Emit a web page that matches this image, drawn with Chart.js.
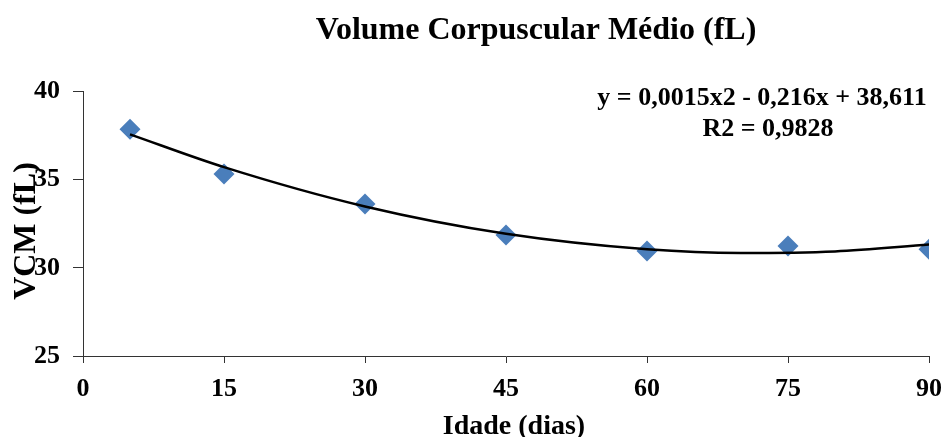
<!DOCTYPE html>
<html>
<head>
<meta charset="utf-8">
<script src="https://cdn.jsdelivr.net/npm/chart.js@4/dist/chart.umd.min.js"></script>
<style>
  body { margin: 0; background: #fff; }
  canvas { display: block; }
</style>
</head>
<body>
<canvas id="vcm_chart" width="945" height="437"></canvas>
<script>
// measured points (day, VCM)
const dias = [5, 15, 30, 45, 60, 75, 90];
const vcm = [37.86, 35.32, 33.62, 31.86, 30.95, 31.24, 31.05];

// trend curve
const trendDias = [5, 15, 30, 45, 60, 70, 80, 90];
const trendVcm = [37.57, 35.71, 33.48, 31.93, 31.05, 30.84, 30.93, 31.32];

const xTicks = [0, 15, 30, 45, 60, 75, 90];
const yTicks = [25, 30, 35, 40];

const chartTitle = "Volume Corpuscular Médio (fL)";
const xTitle = "Idade (dias)";
const yTitle = "VCM (fL)";
const equationLines = ["y = 0,0015x2 - 0,216x + 38,611", "R2 = 0,9828"];

const serif = "'Liberation Serif', 'Times New Roman', serif";

const toPoints = (xs, ys) => xs.map((x, i) => ({ x: x, y: ys[i] }));

// titles and the trendline label, placed like the excel original
const textLabels = {
  id: "textLabels",
  afterDraw: (chart) => {
    const ctx = chart.ctx;
    ctx.save();
    ctx.fillStyle = "#000";
    ctx.textAlign = "center";
    ctx.textBaseline = "alphabetic";

    ctx.font = `bold 32px ${serif}`;
    ctx.fillText(chartTitle, 536, 39);

    ctx.font = `bold 28px ${serif}`;
    ctx.fillText(xTitle, 514, 434);

    ctx.save();
    ctx.translate(35, 231);
    ctx.rotate(-Math.PI / 2);
    ctx.font = `bold 32px ${serif}`;
    ctx.fillText(yTitle, 0, 0);
    ctx.restore();

    ctx.font = `bold 26px ${serif}`;
    ctx.fillText(equationLines[0], 762, 105);
    ctx.fillText(equationLines[1], 768, 136);
    ctx.restore();
  },
};

const axisBase = (ticksList, tickLen) => ({
  type: "linear",
  min: ticksList[0],
  max: ticksList[ticksList.length - 1],
  afterBuildTicks: (axis) => {
    axis.ticks = ticksList.map((v) => ({ value: v }));
  },
  grid: {
    display: true,
    drawOnChartArea: false,
    drawTicks: true,
    tickLength: tickLen,
    tickColor: "#333",
  },
  border: { display: true, color: "#333", width: 1 },
});

const xAxis = axisBase(xTicks, 7);
xAxis.ticks = {
  color: "#000",
  padding: 11,
  font: { family: serif, size: 26, weight: "bold" },
};
xAxis.afterFit = (axis) => {
  axis.height = 81;
  axis.paddingLeft = 0;
  axis.paddingRight = 0;
};

const yAxis = axisBase(yTicks, 10);
yAxis.ticks = {
  color: "#000",
  padding: 13,
  font: { family: serif, size: 26, weight: "bold" },
};
yAxis.afterFit = (axis) => {
  axis.width = 83;
  axis.paddingTop = 0;
  axis.paddingBottom = 0;
};

const ctx = document.getElementById("vcm_chart").getContext("2d");
new Chart(ctx, {
  type: "scatter",
  data: {
    datasets: [
      {
        type: "line",
        label: "Tendência",
        data: toPoints(trendDias, trendVcm),
        borderColor: "#000",
        borderWidth: 2.5,
        pointRadius: 0,
        fill: false,
        cubicInterpolationMode: "monotone",
        order: 0,
      },
      {
        label: "VCM",
        data: toPoints(dias, vcm),
        pointStyle: "rectRot",
        pointRadius: 10.5,
        backgroundColor: "#4a7ebb",
        borderWidth: 0,
        order: 1,
      },
    ],
  },
  options: {
    responsive: false,
    animation: false,
    devicePixelRatio: 1,
    layout: { padding: { top: 91.5, right: 16, bottom: 0, left: 0 } },
    plugins: {
      legend: { display: false },
      tooltip: { enabled: false },
      title: { display: false },
    },
    scales: { x: xAxis, y: yAxis },
  },
  plugins: [textLabels],
});
</script>
</body>
</html>
